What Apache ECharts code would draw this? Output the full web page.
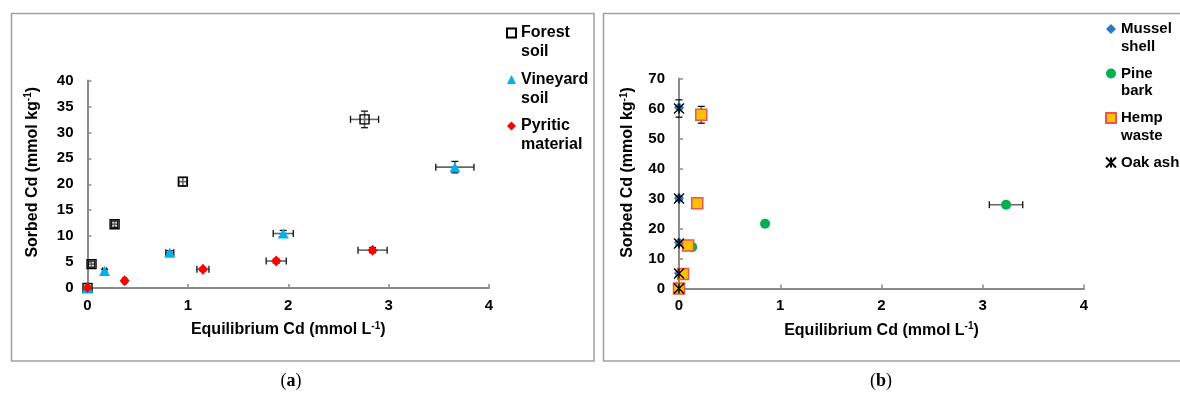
<!DOCTYPE html>
<html>
<head>
<meta charset="utf-8">
<title>Cd sorption isotherms</title>
<script src="https://cdn.jsdelivr.net/npm/echarts@6/dist/echarts.min.js"></script>
<style>
  html, body { margin: 0; padding: 0; background: #fff; }
  #chart { width: 1180px; height: 394px; }
</style>
</head>
<body>
<div id="chart"></div>
<script>
// ---- Panel (a): soils and pyritic material ----
const forestX = [0, 0.04, 0.27, 0.95, 2.76];
const forestY = [0, 4.6, 12.3, 20.5, 32.5];
const forestErrX = [0, 0.03, 0.03, 0.04, 0.14];
const forestErrY = [0, 0.6, 0.6, 0.8, 1.6];

const vineyardX = [0, 0.17, 0.82, 1.95, 3.66];
const vineyardY = [0, 3.3, 6.8, 10.5, 23.3];
const vineyardErrX = [0, 0.02, 0.04, 0.1, 0.19];
const vineyardErrY = [0, 0.3, 0.4, 0.6, 1.1];

const pyriticX = [0, 0.37, 1.15, 1.88, 2.84];
const pyriticY = [0.1, 1.4, 3.6, 5.2, 7.3];
const pyriticErrX = [0, 0.02, 0.06, 0.1, 0.145];
const pyriticErrY = [0, 0.2, 0.3, 0.4, 0.5];

// ---- Panel (b): by-products ----
const musselX = [0, 0, 0, 0, 0];
const musselY = [0, 5.1, 15.3, 30.1, 60.3];

const pineX = [0, 0.13, 0.85, 3.23];
const pineY = [0, 13.8, 21.6, 27.9];
const pineErrX = [0, 0.01, 0.02, 0.165];
const pineErrY = [0, 0.4, 0.6, 0.8];

const hempX = [0, 0.04, 0.09, 0.18, 0.22];
const hempY = [0, 4.8, 14.3, 28.4, 57.9];
const hempErrX = [0, 0, 0, 0, 0.01];
const hempErrY = [0, 0.3, 0.6, 0.6, 2.8];

const oakX = [0, 0, 0, 0, 0];
const oakY = [0, 5, 15, 30, 60];
const oakErrX = [0, 0, 0, 0, 0];
const oakErrY = [0, 0.4, 0.6, 0.6, 2.9];

// axis ranges / ticks
const xTicks = { min: 0, max: 4, interval: 1 };
const yTicksA = { min: 0, max: 40, interval: 5 };
const yTicksB = { min: 0, max: 70, interval: 10 };

const seriesNamesA = ['Forest soil', 'Vineyard soil', 'Pyritic material'];
const seriesNamesB = ['Mussel shell', 'Pine bark', 'Hemp waste', 'Oak ash'];
const legendLines = {
  'Forest soil': 'Forest\nsoil',
  'Vineyard soil': 'Vineyard\nsoil',
  'Pyritic material': 'Pyritic\nmaterial',
  'Mussel shell': 'Mussel\nshell',
  'Pine bark': 'Pine\nbark',
  'Hemp waste': 'Hemp\nwaste',
  'Oak ash': 'Oak ash\n'
};

const FONT = '"Liberation Sans", Arial, Helvetica, sans-serif';
const AXIS_GRAY = '#8a8a8a';

function pairs(xs, ys) { return xs.map((x, i) => [x, ys[i]]); }

// error bars sit on the base layer, markers are drawn above them
function errorBars(name, xs, ys, exs, eys, idx) {
  return {
    type: 'custom',
    name: name + ' error',
    xAxisIndex: idx,
    yAxisIndex: idx,
    zlevel: 0,
    z: 1,
    silent: true,
    clip: false,
    encode: { x: 0, y: 1 },
    data: xs.map((x, i) => [x, ys[i], exs[i], eys[i]]),
    renderItem: function (params, api) {
      const x = api.value(0), y = api.value(1);
      const ex = api.value(2), ey = api.value(3);
      const c = api.coord([x, y]);
      const cap = 3.5;
      const bar = { stroke: '#666', lineWidth: 1.6 };
      const capStyle = { stroke: '#111', lineWidth: 1.3 };
      const kids = [];
      if (ex > 0) {
        const l = api.coord([x - ex, y])[0];
        const r = api.coord([x + ex, y])[0];
        kids.push({ type: 'line', shape: { x1: l, y1: c[1], x2: r, y2: c[1] }, style: bar });
        kids.push({ type: 'line', shape: { x1: l, y1: c[1] - cap, x2: l, y2: c[1] + cap }, style: capStyle });
        kids.push({ type: 'line', shape: { x1: r, y1: c[1] - cap, x2: r, y2: c[1] + cap }, style: capStyle });
      }
      if (ey > 0) {
        const t = api.coord([x, y + ey])[1];
        const b = api.coord([x, y - ey])[1];
        kids.push({ type: 'line', shape: { x1: c[0], y1: t, x2: c[0], y2: b }, style: bar });
        kids.push({ type: 'line', shape: { x1: c[0] - cap, y1: t, x2: c[0] + cap, y2: t }, style: capStyle });
        kids.push({ type: 'line', shape: { x1: c[0] - cap, y1: b, x2: c[0] + cap, y2: b }, style: capStyle });
      }
      return { type: 'group', children: kids };
    }
  };
}

function scatter(name, xs, ys, idx, symbol, size, itemStyle) {
  return {
    type: 'scatter',
    name: name,
    xAxisIndex: idx,
    yAxisIndex: idx,
    zlevel: 1,
    z: 3,
    clip: false,
    symbol: symbol,
    symbolSize: size,
    symbolKeepAspect: true,
    itemStyle: Object.assign({ opacity: 1 }, itemStyle),
    data: pairs(xs, ys)
  };
}

const nameStyle = {
  color: '#000',
  fontSize: 16,
  fontWeight: 'bold',
  fontFamily: FONT,
  lineHeight: 18,
  rich: {
    sup: { fontSize: 10, fontWeight: 'bold', fontFamily: FONT, color: '#000', verticalAlign: 'top', lineHeight: 18 }
  }
};

function xAxis(idx) {
  return {
    type: 'value',
    gridIndex: idx,
    min: xTicks.min, max: xTicks.max, interval: xTicks.interval,
    name: 'Equilibrium Cd (mmol L{sup|-1})',
    nameLocation: 'middle',
    nameGap: 33,
    nameTextStyle: nameStyle,
    axisLine: { show: true, onZero: false, lineStyle: { color: AXIS_GRAY, width: 2 } },
    axisTick: { show: true, inside: true, length: 4, lineStyle: { color: AXIS_GRAY, width: 1.5 } },
    axisLabel: { margin: 10, color: '#000', fontSize: 15, fontWeight: 'bold', fontFamily: FONT },
    splitLine: { show: false }
  };
}

function yAxis(idx, ticks, gap, shift) {
  return {
    type: 'value',
    gridIndex: idx,
    min: ticks.min, max: ticks.max, interval: ticks.interval,
    name: 'Sorbed Cd (mmol kg{sup|-1})',
    nameLocation: 'middle',
    nameGap: gap,
    nameTextStyle: Object.assign({}, nameStyle, { padding: [0, 0, 0, shift] }),
    axisLine: { show: true, onZero: false, lineStyle: { color: AXIS_GRAY, width: 2 } },
    axisTick: { show: true, inside: true, length: 4, lineStyle: { color: AXIS_GRAY, width: 1.5 } },
    axisLabel: { margin: 14, color: '#000', fontSize: 15, fontWeight: 'bold', fontFamily: FONT },
    splitLine: { show: false }
  };
}

function legend(names, left, top, fontSize, lineHeight, gap, icon) {
  return {
    orient: 'vertical',
    left: left,
    top: top,
    padding: 0,
    itemGap: gap,
    itemWidth: icon,
    itemHeight: icon,
    data: names,
    selectedMode: false,
    formatter: n => '\n' + legendLines[n],
    textStyle: { color: '#000', fontSize: fontSize, fontWeight: 'bold', fontFamily: FONT, lineHeight: lineHeight }
  };
}

const oakSymbol = 'path://M0,0L10,10M10,0L0,10M5,0L5,10';

const option = {
  animation: false,
  backgroundColor: '#fff',
  grid: [
    { left: 87.5, top: 80.5, width: 401.5, height: 207.5 },
    { left: 679, top: 78.5, width: 405, height: 210 }
  ],
  xAxis: [xAxis(0), xAxis(1)],
  yAxis: [yAxis(0, yTicksA, 46, 24), yAxis(1, yTicksB, 42, 22)],
  legend: [
    legend(seriesNamesA, 506, 4.5, 16, 19, -10.5, 9),
    legend(seriesNamesB, 1105, 2.75, 15, 17.5, -8, 10)
  ],
  graphic: [
    { type: 'rect', silent: true, shape: { x: 11.5, y: 13.5, width: 582.5, height: 347.5 },
      style: { fill: 'none', stroke: '#a0a0a0', lineWidth: 1.5 } },
    { type: 'rect', silent: true, shape: { x: 603.5, y: 13.5, width: 600, height: 347.5 },
      style: { fill: 'none', stroke: '#a0a0a0', lineWidth: 1.5 } },
    { type: 'text', x: 291, y: 381, silent: true,
      style: { text: '({b|a})', align: 'center', verticalAlign: 'middle', fill: '#000',
        font: '18px "Liberation Serif", "DejaVu Serif", serif',
        rich: { b: { fontWeight: 'bold', fontSize: 18, fontFamily: '"Liberation Serif", "DejaVu Serif", serif' } } } },
    { type: 'text', x: 881, y: 381, silent: true,
      style: { text: '({b|b})', align: 'center', verticalAlign: 'middle', fill: '#000',
        font: '18px "Liberation Serif", "DejaVu Serif", serif',
        rich: { b: { fontWeight: 'bold', fontSize: 18, fontFamily: '"Liberation Serif", "DejaVu Serif", serif' } } } }
  ],
  series: [
    errorBars('Forest soil', forestX, forestY, forestErrX, forestErrY, 0),
    errorBars('Vineyard soil', vineyardX, vineyardY, vineyardErrX, vineyardErrY, 0),
    errorBars('Pyritic material', pyriticX, pyriticY, pyriticErrX, pyriticErrY, 0),
    scatter('Forest soil', forestX, forestY, 0, 'rect', 9,
      { color: 'transparent', borderColor: '#000', borderWidth: 1.4 }),
    scatter('Vineyard soil', vineyardX, vineyardY, 0, 'triangle', [11, 10],
      { color: '#00B0F0' }),
    scatter('Pyritic material', pyriticX, pyriticY, 0, 'diamond', [10, 11],
      { color: '#FF0000' }),

    errorBars('Pine bark', pineX, pineY, pineErrX, pineErrY, 1),
    errorBars('Hemp waste', hempX, hempY, hempErrX, hempErrY, 1),
    errorBars('Oak ash', oakX, oakY, oakErrX, oakErrY, 1),
    scatter('Mussel shell', musselX, musselY, 1, 'diamond', [10, 11],
      { color: '#2b7bc4' }),
    scatter('Pine bark', pineX, pineY, 1, 'circle', 10,
      { color: '#00B050' }),
    scatter('Hemp waste', hempX, hempY, 1, 'rect', 11,
      { color: '#FFC000', borderColor: '#E8574A', borderWidth: 1.5 }),
    scatter('Oak ash', oakX, oakY, 1, oakSymbol, 10,
      { color: '#000', borderColor: '#000', borderWidth: 1.4 })
  ]
};

const chart = echarts.init(document.getElementById('chart'), null, { renderer: 'canvas' });
chart.setOption(option);
</script>
</body>
</html>
